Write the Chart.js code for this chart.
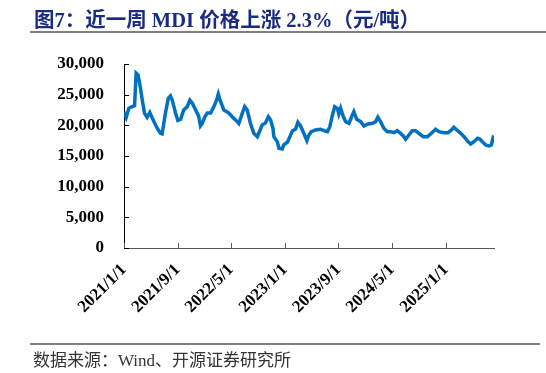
<!DOCTYPE html>
<html>
<head>
<meta charset="utf-8">
<script src="https://cdn.jsdelivr.net/npm/chart.js@4/dist/chart.umd.min.js"></script>
<style>
  html, body { margin: 0; padding: 0; background: #fff; }
  #wrap { position: relative; width: 546px; height: 373px; overflow: hidden; }
  #c { position: absolute; left: 0; top: 0; }
  #title { position: absolute; left: 34px; top: 3px; font-family: "Liberation Serif", "Noto Sans CJK SC", serif; font-weight: bold; font-size: 20.5px; color: #1B2C80; white-space: nowrap; }
  #topline { position: absolute; left: 30px; top: 31px; width: 516px; height: 2px; background: #808080; }
  #botline { position: absolute; left: 30px; top: 343px; width: 510px; height: 2px; background: #808080; }
  #source { position: absolute; left: 33px; top: 346px; font-family: "Liberation Serif", "Noto Sans CJK SC", serif; font-size: 17px; color: #333; white-space: nowrap; }
</style>
</head>
<body>
<div id="wrap">
  <canvas id="c" width="546" height="373"></canvas>
  <div id="title">图7：近一周 MDI 价格上涨 2.3%（元/吨）</div>
  <div id="topline"></div>
  <div id="botline"></div>
  <div id="source">数据来源：Wind、开源证券研究所</div>
</div>
<script>
const dates = ["2021-01-01","2021-01-11","2021-01-23","2021-02-07","2021-02-18","2021-02-25","2021-03-06","2021-03-17","2021-03-25","2021-04-04",
"2021-04-16","2021-04-28","2021-05-09","2021-06-01","2021-06-16","2021-06-23","2021-07-08","2021-07-21","2021-07-31","2021-08-08",
"2021-08-23","2021-09-02","2021-09-15","2021-09-29","2021-10-15","2021-10-27","2021-11-07","2021-11-22","2021-12-06","2021-12-14",
"2021-12-22","2022-01-03","2022-01-14","2022-01-29","2022-02-13","2022-02-25","2022-03-05","2022-03-15","2022-03-30","2022-04-22",
"2022-05-07","2022-05-30","2022-06-06","2022-06-22","2022-07-03","2022-07-14","2022-07-29","2022-08-13","2022-08-29","2022-09-08",
"2022-09-20","2022-10-05","2022-10-18","2022-10-28","2022-11-08","2022-11-12","2022-11-28","2022-12-05","2022-12-20","2022-12-27",
"2023-01-12","2023-01-27","2023-02-04","2023-02-19","2023-03-01","2023-03-13","2023-03-28","2023-04-11","2023-04-20","2023-05-01",
"2023-05-20","2023-06-12","2023-06-27","2023-07-13","2023-07-24","2023-08-04","2023-08-15","2023-08-27","2023-09-03","2023-09-11",
"2023-09-23","2023-10-04","2023-10-19","2023-10-31","2023-11-10","2023-11-23","2023-12-11","2023-12-26","2024-01-13","2024-02-02",
"2024-02-17","2024-02-27","2024-03-10","2024-03-25","2024-04-10","2024-04-25","2024-05-10","2024-05-25","2024-06-09","2024-06-24",
"2024-07-02","2024-07-17","2024-08-01","2024-08-16","2024-08-31","2024-09-20","2024-10-09","2024-10-27","2024-11-15","2024-11-30",
"2024-12-23","2025-01-10","2025-01-26","2025-02-06","2025-02-19","2025-03-09","2025-03-24","2025-04-11","2025-04-23","2025-05-08",
"2025-05-24","2025-06-05","2025-06-15","2025-06-30","2025-07-15","2025-07-26","2025-08-04","2025-08-07"];

const mdiPrice = [22200,21300,22800,23050,23200,28500,28200,26000,24100,22000,
21300,22100,21200,19500,18700,18600,22000,24400,24800,24100,
22000,20800,21000,22500,23050,24100,23600,22500,21500,19900,
20300,21400,22000,22000,23050,24100,25100,23900,22500,22000,
21400,20600,20300,22000,23050,22500,20300,18700,18150,19000,
20060,20400,21400,20900,19500,18150,17300,16260,16150,16800,
17240,18400,19080,19400,20500,19900,18700,17500,18430,18970,
19250,19360,19130,18970,19780,21530,23050,22780,21860,22780,
21420,20600,20340,21420,22230,20980,20600,19900,20220,20340,
20600,21320,20600,19520,18970,18970,18810,19130,18700,18150,
17730,18430,19130,19130,18700,18150,18150,18700,19360,18970,
18810,18810,19250,19690,19250,18700,18150,17340,16960,17340,
17890,17730,17340,16800,16640,16800,18150,18270];

const xTickLabels = ["2021/1/1","2021/9/1","2022/5/1","2023/1/1","2023/9/1","2024/5/1","2025/1/1"];
const yTickValues = [0,5000,10000,15000,20000,25000,30000];

const BASE = Date.UTC(2021,0,1);
function dayOf(s) {
  const p = s.split(/[-\/]/).map(Number);
  return (Date.UTC(p[0], p[1]-1, p[2]) - BASE) / 86400000;
}

const points = dates.map((d, i) => ({ x: dayOf(d), y: mdiPrice[i] }));

const tickMarks = {
  id: 'tickMarks',
  afterDatasetsDraw(chart) {
    const { ctx, scales: { x, y }, chartArea: a } = chart;
    ctx.save();
    ctx.lineWidth = 1;
    ctx.strokeStyle = '#000';
    y.ticks.forEach(t => {
      const py = Math.round(y.getPixelForValue(t.value)) + 0.5;
      ctx.beginPath(); ctx.moveTo(a.left, py); ctx.lineTo(a.left + 5, py); ctx.stroke();
    });
    ctx.strokeStyle = '#595959';
    x.ticks.forEach(t => {
      const px = Math.round(x.getPixelForValue(t.value)) + 0.5;
      ctx.beginPath(); ctx.moveTo(px, a.bottom); ctx.lineTo(px, a.bottom - 5); ctx.stroke();
    });
    ctx.restore();
  }
};

const tickFont = { family: '"Liberation Serif", "Times New Roman", serif', weight: 'bold', size: 17 };

new Chart(document.getElementById('c'), {
  type: 'line',
  data: {
    datasets: [{
      data: points,
      borderColor: '#0070C0',
      borderWidth: 3.5,
      pointRadius: 0,
      tension: 0,
      fill: false
    }]
  },
  options: {
    responsive: false,
    devicePixelRatio: 1,
    animation: false,
    layout: { padding: { top: 64, right: 52, left: 0, bottom: 0 } },
    plugins: { legend: { display: false }, tooltip: { enabled: false } },
    scales: {
      x: {
        type: 'linear',
        min: 0,
        max: dayOf("2025-08-07"),
        grid: { display: false, drawTicks: false },
        border: { display: true, color: '#595959', width: 1 },
        afterBuildTicks: s => { s.ticks = xTickLabels.map(l => ({ value: dayOf(l) })); },
        afterFit: s => { s.height = 125; },
        ticks: {
          autoSkip: false,
          minRotation: 45,
          maxRotation: 45,
          padding: 12,
          color: '#000',
          font: tickFont,
          callback: (v, i) => xTickLabels[i]
        }
      },
      y: {
        min: 0,
        max: 30000,
        grid: { display: false, drawTicks: false },
        border: { display: true, color: '#000', width: 1 },
        afterBuildTicks: s => { s.ticks = yTickValues.map(v => ({ value: v })); },
        afterFit: s => { s.width = 124; },
        ticks: {
          padding: 20,
          color: '#000',
          font: tickFont,
          callback: v => v.toLocaleString('en-US')
        }
      }
    }
  },
  plugins: [tickMarks]
});
</script>
</body>
</html>
